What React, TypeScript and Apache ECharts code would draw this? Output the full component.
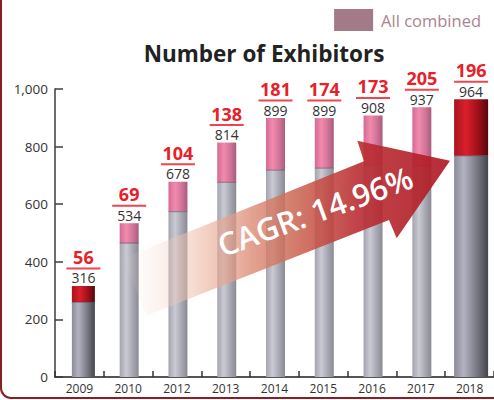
import React, { useEffect, useRef } from "react";
import * as echarts from "echarts";

// ---- data ----
const years = ["2009", "2010", "2012", "2013", "2014", "2015", "2016", "2017", "2018"];
const totals = [316, 534, 678, 814, 899, 899, 908, 937, 964];
const added = [56, 69, 104, 138, 181, 174, 173, 205, 196];
const yTicks = [0, 200, 400, 600, 800, 1000];
const seriesName = "All combined";
const cagrText = "CAGR: 14.96%";

// ---- styles (not data) ----
const BAR_WIDTHS = [23, 19, 19, 19, 19, 19, 19, 19, 34];
const BAR_OFFSETS = [4, 1, 1, 1, 1, 1, 1, 1, 1.5];
const HIGHLIGHT = [true, false, false, false, false, false, false, false, true];
const FONT = "'Open Sans', 'Noto Sans', sans-serif";

const grad = (stops: [number, string][]) =>
  new echarts.graphic.LinearGradient(0, 0, 1, 0, stops.map(([offset, color]) => ({ offset, color })));

export default function App() {
  const ref = useRef<HTMLDivElement>(null);

  useEffect(() => {
    if (!ref.current) return;
    const chart = echarts.init(ref.current, null, { renderer: "svg" });

    const grayNormal = () =>
      grad([
        [0, "#a4a4ae"],
        [0.35, "#cacad4"],
        [0.7, "#a6a6b0"],
        [1, "#8a8a94"],
      ]);
    const pinkNormal = () =>
      grad([
        [0, "#d46a94"],
        [0.35, "#f28aad"],
        [0.7, "#d07498"],
        [1, "#a85c7c"],
      ]);
    const grayDark = () =>
      grad([
        [0, "#8a8a98"],
        [0.28, "#b2b2c2"],
        [0.65, "#7c7c88"],
        [1, "#45454d"],
      ]);
    const redDark = () =>
      grad([
        [0, "#a8141e"],
        [0.35, "#da1f2b"],
        [0.7, "#a01019"],
        [1, "#55070d"],
      ]);

    const data = years.map((_, i) => [i, totals[i], added[i]]);

    chart.setOption({
      animation: false,
      textStyle: { fontFamily: FONT },
      title: {
        text: "Number of Exhibitors",
        left: 259,
        textAlign: "center",
        top: 37,
        textStyle: { fontSize: 22.5, fontWeight: "bold", color: "#222", fontFamily: FONT },
      },
      legend: {
        data: [seriesName],
        right: 8,
        top: 4,
        icon: "rect",
        itemWidth: 39,
        itemHeight: 22,
        itemGap: 8,
        textStyle: { color: "#a9848f", fontSize: 16.5, fontFamily: FONT, padding: [0, 0, 0, 3] },
      },
      grid: { left: 55, right: -7, top: 89, bottom: 23 },
      xAxis: {
        type: "category",
        data: years,
        axisLine: { lineStyle: { color: "#555", width: 2 } },
        axisTick: { show: true, inside: true, length: 6, interval: 0, lineStyle: { color: "#333", width: 1.5 } },
        axisLabel: { color: "#333", fontSize: 12, margin: 5, interval: 0, fontFamily: FONT },
      },
      yAxis: {
        type: "value",
        min: yTicks[0],
        max: yTicks[yTicks.length - 1],
        interval: yTicks[1] - yTicks[0],
        splitLine: { show: false },
        axisLine: { show: true, lineStyle: { color: "#3c3c3c", width: 1.5 } },
        axisTick: { show: true, inside: true, length: 8, lineStyle: { color: "#3c3c3c", width: 1.5 } },
        axisLabel: {
          color: "#333",
          fontSize: 13.5,
          margin: 7,
          fontFamily: FONT,
          formatter: (v: number) => v.toLocaleString("en-US"),
        },
      },
      series: [
        {
          name: seriesName,
          type: "custom",
          itemStyle: { color: "#a27a88" },
          encode: { x: 0, y: 1 },
          data,
          z: 2,
          renderItem: (params: any, api: any) => {
            const i = api.value(0);
            const total = api.value(1);
            const add = api.value(2);
            const base = total - add;
            const c0 = api.coord([i, 0]);
            const cBase = api.coord([i, base]);
            const cTop = api.coord([i, total]);
            const w = BAR_WIDTHS[i];
            const cx = c0[0] + BAR_OFFSETS[i];
            const x = cx - w / 2;
            const hi = HIGHLIGHT[i];
            return {
              type: "group",
              children: [
                {
                  type: "rect",
                  shape: { x, y: cBase[1], width: w, height: c0[1] - cBase[1] },
                  style: { fill: hi ? grayDark() : grayNormal() },
                },
                {
                  type: "rect",
                  shape: { x, y: cTop[1], width: w, height: cBase[1] - cTop[1] },
                  style: { fill: hi ? redDark() : pinkNormal() },
                },
                {
                  type: "line",
                  shape: { x1: x, y1: cBase[1], x2: x + w, y2: cBase[1] },
                  style: { stroke: "rgba(70,70,80,0.55)", lineWidth: 1 },
                },
                {
                  type: "text",
                  x: cx,
                  y: cTop[1] - 8,
                  style: {
                    text: String(total),
                    fill: "#333",
                    fontSize: 14,
                    fontFamily: FONT,
                    align: "center",
                    verticalAlign: "middle",
                    textAlign: "center",
                    textVerticalAlign: "middle",
                  },
                },
                {
                  type: "rect",
                  shape: { x: cx - 17, y: cTop[1] - 18.5, width: 34, height: 2 },
                  style: { fill: "#f0454d" },
                },
                {
                  type: "text",
                  x: cx,
                  y: cTop[1] - 29,
                  style: {
                    text: String(add),
                    fill: "#e8202a",
                    fontSize: 18,
                    fontWeight: "bold",
                    fontFamily: FONT,
                    align: "center",
                    verticalAlign: "middle",
                    textAlign: "center",
                    textVerticalAlign: "middle",
                  },
                },
              ],
            };
          },
        },
      ],
      graphic: [
        {
          type: "rect",
          z: 100,
          silent: true,
          shape: { x: 1, y: -30, width: 600, height: 428, r: 10 },
          style: { fill: "none", stroke: "#8b1e22", lineWidth: 2 },
        },
        {
          type: "polygon",
          z: 50,
          silent: true,
          shape: {
            points: [
              [123.5, 257.9],
              [364, 161.3],
              [357.3, 140.7],
              [450, 160.7],
              [396.7, 238.3],
              [389, 220],
              [146.5, 315.5],
            ],
          },
          style: {
            fill: grad([
              [0, "rgba(250,235,228,0)"],
              [0.08, "rgba(245,215,200,0.2)"],
              [0.23, "rgba(238,188,168,0.6)"],
              [0.39, "rgba(220,140,118,0.8)"],
              [0.51, "rgba(205,108,88,0.86)"],
              [0.63, "rgba(195,70,64,0.88)"],
              [0.72, "rgba(185,45,50,0.9)"],
              [1, "rgba(176,26,38,0.92)"],
            ]),
          },
        },
        {
          type: "text",
          z: 51,
          silent: true,
          x: 315,
          y: 211,
          rotation: (20 * Math.PI) / 180,
          style: {
            text: cagrText,
            fill: "#ffffff",
            fontSize: 31,
            fontWeight: 600,
            fontFamily: FONT,
            align: "center",
            verticalAlign: "middle",
            textAlign: "center",
            textVerticalAlign: "middle",
          },
        },
      ],
    });

    return () => chart.dispose();
  }, []);

  return (
    <div
      ref={ref}
      style={{ position: "fixed", left: 0, top: 0, width: 494, height: 400, background: "#fff" }}
    />
  );
}
